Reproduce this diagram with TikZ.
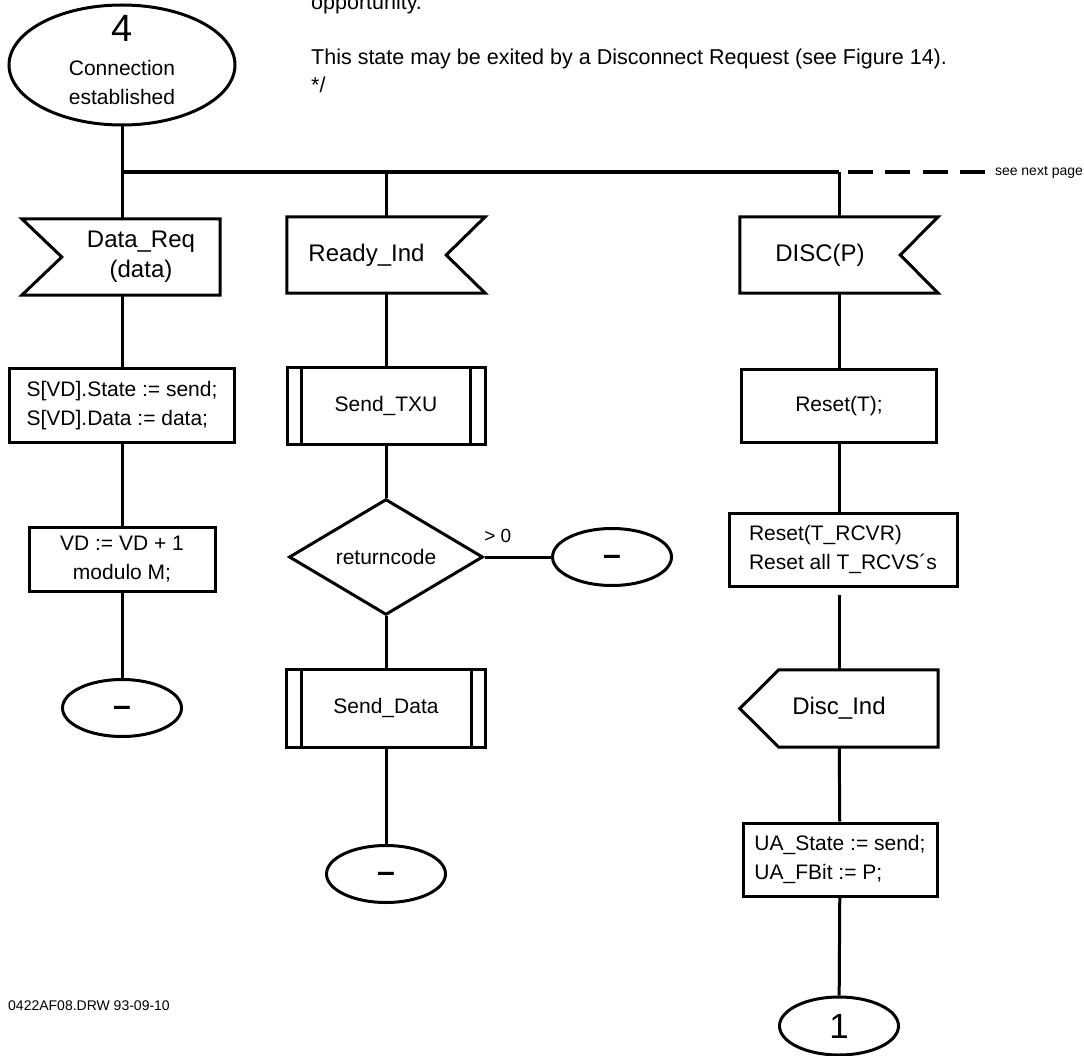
\documentclass[tikz,border=0pt]{standalone}
\usepackage{fontspec}
\setmainfont{Liberation Sans}
\usetikzlibrary{shapes.geometric}

\begin{document}
\begin{tikzpicture}[x=1pt,y=-1pt]
  \tikzstyle{flow}=[line width=3pt]
  \tikzstyle{bus line}=[line width=4pt]
  \tikzstyle{box}=[draw,line width=3pt,rectangle,inner sep=0pt,font=\fontsize{21}{29}\selectfont]
  \tikzstyle{state}=[draw,line width=3pt,ellipse,inner sep=0pt]
  \tikzstyle{terminal}=[draw,line width=3pt,ellipse,minimum width=119pt,minimum height=57pt,inner sep=0pt,font=\fontsize{32}{32}\selectfont\bfseries]
  \tikzstyle{dash text}=[text height=17pt,text depth=0pt]
  \tikzstyle{decision}=[draw,line width=3pt,diamond,minimum width=194pt,minimum height=101pt,inner sep=0pt,font=\fontsize{21}{29}\selectfont]
  \tikzstyle{signal}=[rectangle,inner sep=0pt,minimum height=76pt,align=center,font=\fontsize{24}{30}\selectfont]
  \tikzstyle{note text}=[inner sep=0pt,anchor=base west,font=\fontsize{21.5}{27}\selectfont]
  \tikzstyle{small text}=[inner sep=0pt,font=\fontsize{14}{16}\selectfont]

  \useasboundingbox (0,0) rectangle (1084,1056);

  \node[state,minimum width=226pt,minimum height=120pt] (s4) at (122,65) {};
  \node[inner sep=0pt,align=center,font=\fontsize{21}{29}\selectfont] (s4text) at (122,60)
    {{\fontsize{38}{38}\selectfont 4}\\[5pt]Connection\\established};

  \node[note text] (opp) at (311,10) {opportunity.};
  \node[note text] (exit) at (311,65) {This state may be exited by a Disconnect Request (see Figure 14).};
  \node[note text] (endc) at (311,92.5) {*/};

  \coordinate (b1) at (122,172);
  \coordinate (b2) at (386,172);
  \coordinate (b3) at (839,172);
  \coordinate (b4) at (848,172);
  \coordinate (b5) at (985,172);
  \draw[bus line] (b1) -- (b3);
  \draw[bus line,dash pattern=on 25pt off 12.33pt] (b4) -- (b5)
    node[small text,right=8pt] (nextp) {see next page};

  \node[signal,minimum width=158pt] (dreq) at (141,257) {Data\_Req\\(data)};
  \draw[flow] (dreq.north east) -- (dreq.south east) -- ([xshift=-40pt]dreq.south west)
    -- (dreq.west) -- ([xshift=-40pt]dreq.north west) -- cycle;
  \node[box,minimum width=225pt,minimum height=73pt,align=left] (sset) at (122,405.5)
    {S[VD].State := send;\\S[VD].Data := data;};
  \node[box,minimum width=186pt,minimum height=64pt,align=center] (vdinc) at (122,559)
    {VD := VD + 1\\modulo M;};
  \node[terminal,dash text] (t1) at (122,708) {–};
  \draw[flow] (s4.south) -- (b1) -- (b1 |- dreq.north);
  \draw[flow] (b1 |- dreq.south) -- (sset);
  \draw[flow] (sset) -- (vdinc);
  \draw[flow] (vdinc) -- (t1);

  \node[signal,minimum width=159pt] (rind) at (366.5,255) {Ready\_Ind};
  \draw[flow] (rind.north west) -- ([xshift=39pt]rind.north east) -- (rind.east)
    -- ([xshift=39pt]rind.south east) -- (rind.south west) -- cycle;
  \node[box,minimum width=198pt,minimum height=76pt] (stxu) at (386,406) {Send\_TXU};
  \draw[flow] ([xshift=16pt]stxu.north west) -- ([xshift=16pt]stxu.south west)
    ([xshift=-16pt]stxu.north east) -- ([xshift=-16pt]stxu.south east);
  \node[decision] (rc) at (386,557) {returncode};
  \node[terminal,dash text] (t2) at (612,557) {–};
  \node[box,minimum width=199pt,minimum height=78pt] (sdata) at (386,708) {Send\_Data};
  \draw[flow] ([xshift=16pt]sdata.north west) -- ([xshift=16pt]sdata.south west)
    ([xshift=-16pt]sdata.north east) -- ([xshift=-16pt]sdata.south east);
  \node[terminal,dash text] (t3) at (386,874) {–};
  \draw[flow] (b2) -- (b2 |- rind.north);
  \draw[flow] (b2 |- rind.south) -- (stxu);
  \draw[flow] (stxu) -- (rc);
  \draw[flow] (rc) -- node[pos=0.2,above=13pt,inner sep=0pt,font=\fontsize{19}{22}\selectfont] (gt0) {> 0} (t2);
  \draw[flow] (rc) -- (sdata);
  \draw[flow] (sdata) -- (t3);

  \node[signal,minimum width=160pt] (disc) at (820,255) {DISC(P)};
  \draw[flow] (disc.north west) -- ([xshift=38pt]disc.north east) -- (disc.east)
    -- ([xshift=38pt]disc.south east) -- (disc.south west) -- cycle;
  \node[box,minimum width=195pt,minimum height=72pt] (rst) at (839,406) {Reset(T);};
  \node[box,minimum width=228pt,minimum height=73pt,align=left] (rstall) at (843,549.5)
    {Reset(T\_RCVR)\\Reset all T\_RCVS´s};
  \node[signal,draw=none,minimum width=198pt,minimum height=77pt] (dind) at (839,708.5) {Disc\_Ind};
  \draw[flow] (dind.north east) -- (dind.south east) -- ([xshift=39pt]dind.south west)
    -- (dind.west) -- ([xshift=39pt]dind.north west) -- cycle;
  \node[box,minimum width=194pt,minimum height=73pt,align=left] (uast) at (840,859.5)
    {UA\_State := send;\\UA\_FBit := P;};
  \node[terminal,minimum height=58pt,font=\fontsize{35}{35}\selectfont] (one) at (839,1026) {1};
  \draw[flow] (b3) -- (b3 |- disc.north);
  \draw[flow] (b3 |- disc.south) -- (rst);
  \draw[flow] (rst.south) -- (rst.south |- rstall.north);
  \draw[flow,shorten <=7pt] (rst.south |- rstall.south) -- (dind);
  \draw[flow] (dind) -- (uast);
  \draw[flow] (uast) -- (one);

  \node[small text,anchor=west] (drw) at (8,1006) {0422AF08.DRW 93-09-10};
\end{tikzpicture}
\end{document}
